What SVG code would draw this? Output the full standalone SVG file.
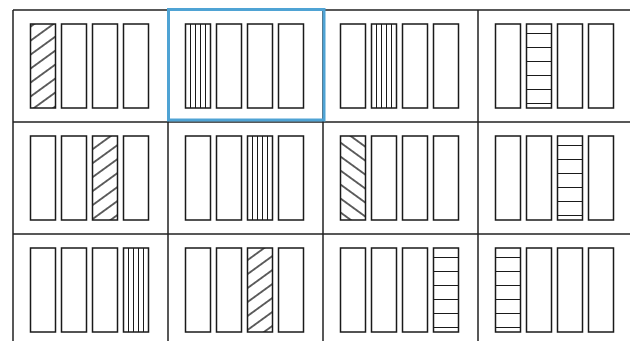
<svg xmlns="http://www.w3.org/2000/svg" width="630" height="341" viewBox="0 0 630 341">
  <style>
    .grid { stroke: #222; stroke-width: 1.5; fill: none; }
    .bar { fill: #fff; stroke: #1a1a1a; stroke-width: 1.5; }
    .fwd { fill: url(#hatchFwd); stroke: #1a1a1a; stroke-width: 1.5; }
    .back { fill: url(#hatchBack); stroke: #1a1a1a; stroke-width: 1.5; }
    .sel { fill: none; stroke: #4fa3d4; stroke-width: 3; }
  </style>
  <defs>
    <pattern id="hatchFwd" patternUnits="userSpaceOnUse" width="8" height="11.3" patternTransform="rotate(-36)">
      <rect width="8" height="11.3" fill="#fff"/>
      <path d="M-1,5.65 H9" stroke="#111" stroke-width="1.3"/>
    </pattern>
    <pattern id="hatchBack" patternUnits="userSpaceOnUse" width="8" height="11.3" patternTransform="rotate(36)">
      <rect width="8" height="11.3" fill="#fff"/>
      <path d="M-1,5.65 H9" stroke="#111" stroke-width="1.3"/>
    </pattern>
    <g id="vlines">
      <path d="M5,0 V84 M10,0 V84 M15,0 V84 M20,0 V84" stroke="#1a1a1a" stroke-width="1"/>
    </g>
    <g id="hlines">
      <path d="M0,9.5 H25 M0,23.5 H25 M0,37.5 H25 M0,51.5 H25 M0,65.5 H25 M0,79.5 H25" stroke="#1a1a1a" stroke-width="1.1"/>
    </g>
  </defs>
  <rect width="630" height="341" fill="#fff"/>

  <g id="grid">
    <path class="grid" d="M13,10 V341 M168,10 V341 M323,10 V341 M478,10 V341 M13,10 H630 M13,122 H630 M13,234 H630"/>
  </g>
  <g id="connectors"/>

  <!-- Row 1 -->
  <g id="cell-1-1">
    <rect class="fwd" x="30.5" y="24" width="25" height="84"/>
    <rect class="bar" x="61.5" y="24" width="25" height="84"/>
    <rect class="bar" x="92.5" y="24" width="25" height="84"/>
    <rect class="bar" x="123.5" y="24" width="25" height="84"/>
  </g>
  <g id="cell-1-2">
    <rect class="bar" x="185.5" y="24" width="25" height="84"/>
    <use href="#vlines" x="185.5" y="24"/>
    <rect class="bar" x="216.5" y="24" width="25" height="84"/>
    <rect class="bar" x="247.5" y="24" width="25" height="84"/>
    <rect class="bar" x="278.5" y="24" width="25" height="84"/>
  </g>
  <g id="cell-1-3">
    <rect class="bar" x="340.5" y="24" width="25" height="84"/>
    <rect class="bar" x="371.5" y="24" width="25" height="84"/>
    <use href="#vlines" x="371.5" y="24"/>
    <rect class="bar" x="402.5" y="24" width="25" height="84"/>
    <rect class="bar" x="433.5" y="24" width="25" height="84"/>
  </g>
  <g id="cell-1-4">
    <rect class="bar" x="495.5" y="24" width="25" height="84"/>
    <rect class="bar" x="526.5" y="24" width="25" height="84"/>
    <use href="#hlines" x="526.5" y="24"/>
    <rect class="bar" x="557.5" y="24" width="25" height="84"/>
    <rect class="bar" x="588.5" y="24" width="25" height="84"/>
  </g>

  <!-- Row 2 -->
  <g id="cell-2-1">
    <rect class="bar" x="30.5" y="136" width="25" height="84"/>
    <rect class="bar" x="61.5" y="136" width="25" height="84"/>
    <rect class="fwd" x="92.5" y="136" width="25" height="84"/>
    <rect class="bar" x="123.5" y="136" width="25" height="84"/>
  </g>
  <g id="cell-2-2">
    <rect class="bar" x="185.5" y="136" width="25" height="84"/>
    <rect class="bar" x="216.5" y="136" width="25" height="84"/>
    <rect class="bar" x="247.5" y="136" width="25" height="84"/>
    <use href="#vlines" x="247.5" y="136"/>
    <rect class="bar" x="278.5" y="136" width="25" height="84"/>
  </g>
  <g id="cell-2-3">
    <rect class="back" x="340.5" y="136" width="25" height="84"/>
    <rect class="bar" x="371.5" y="136" width="25" height="84"/>
    <rect class="bar" x="402.5" y="136" width="25" height="84"/>
    <rect class="bar" x="433.5" y="136" width="25" height="84"/>
  </g>
  <g id="cell-2-4">
    <rect class="bar" x="495.5" y="136" width="25" height="84"/>
    <rect class="bar" x="526.5" y="136" width="25" height="84"/>
    <rect class="bar" x="557.5" y="136" width="25" height="84"/>
    <use href="#hlines" x="557.5" y="136"/>
    <rect class="bar" x="588.5" y="136" width="25" height="84"/>
  </g>

  <!-- Row 3 -->
  <g id="cell-3-1">
    <rect class="bar" x="30.5" y="248" width="25" height="84"/>
    <rect class="bar" x="61.5" y="248" width="25" height="84"/>
    <rect class="bar" x="92.5" y="248" width="25" height="84"/>
    <rect class="bar" x="123.5" y="248" width="25" height="84"/>
    <use href="#vlines" x="123.5" y="248"/>
  </g>
  <g id="cell-3-2">
    <rect class="bar" x="185.5" y="248" width="25" height="84"/>
    <rect class="bar" x="216.5" y="248" width="25" height="84"/>
    <rect class="fwd" x="247.5" y="248" width="25" height="84"/>
    <rect class="bar" x="278.5" y="248" width="25" height="84"/>
  </g>
  <g id="cell-3-3">
    <rect class="bar" x="340.5" y="248" width="25" height="84"/>
    <rect class="bar" x="371.5" y="248" width="25" height="84"/>
    <rect class="bar" x="402.5" y="248" width="25" height="84"/>
    <rect class="bar" x="433.5" y="248" width="25" height="84"/>
    <use href="#hlines" x="433.5" y="248"/>
  </g>
  <g id="cell-3-4">
    <rect class="bar" x="495.5" y="248" width="25" height="84"/>
    <use href="#hlines" x="495.5" y="248"/>
    <rect class="bar" x="526.5" y="248" width="25" height="84"/>
    <rect class="bar" x="557.5" y="248" width="25" height="84"/>
    <rect class="bar" x="588.5" y="248" width="25" height="84"/>
  </g>

  <g id="selection">
    <rect class="sel" x="168.5" y="9.5" width="155.5" height="110.5"/>
  </g>
</svg>
